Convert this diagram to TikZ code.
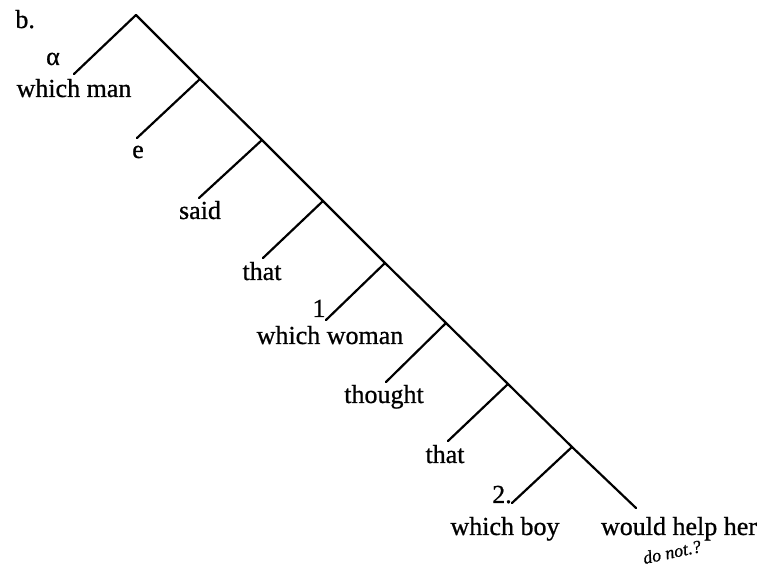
\documentclass[tikz,border=0pt]{standalone}
\usepackage{fontspec}
\setmainfont[FakeBold=0.8]{Liberation Serif}

\begin{document}
\begin{tikzpicture}[
    x=0.5pt, y=-0.5pt,
    branch/.style={line width=1.1pt, line cap=round},
    word/.style={font=\fontsize{13}{15}\selectfont, anchor=base, inner sep=0pt},
    scrawl/.style={font=\fontsize{9}{10}\selectfont\itshape, rotate=12, inner sep=0pt},
]
    \useasboundingbox (0,0) rectangle (762,572);

    % spine
    \coordinate (top) at (136,15);
    \coordinate (b1) at (200,79);
    \coordinate (b2) at (262,140);
    \coordinate (b3) at (323,201);
    \coordinate (b4) at (385,263);
    \coordinate (b5) at (446,323);
    \coordinate (b6) at (508,384);
    \coordinate (b7) at (572,447);
    \coordinate (bottom) at (636,508);

    % leaf ends
    \coordinate (l0) at (74,74);
    \coordinate (l1) at (137,138);
    \coordinate (l2) at (199,198);
    \coordinate (l3) at (263,258);
    \coordinate (l4) at (326,320);
    \coordinate (l5) at (386,382);
    \coordinate (l6) at (448,441);
    \coordinate (l7) at (512,503);

    \draw[branch] (top) -- (b1) -- (b2) -- (b3) -- (b4) -- (b5) -- (b6) -- (b7) -- (bottom);
    \foreach \i/\j in {top/l0, b1/l1, b2/l2, b3/l3, b4/l4, b5/l5, b6/l6, b7/l7}
        \draw[branch] (\i) -- (\j);

    \node[word, anchor=base west] (label) at (15,28) {b.};
    \node[word] (alpha) at (53,65) {α};
    \node[word] (whichman) at (74,97) {which man};
    \node[word] (e) at (138,158) {e};
    \node[word] (said) at (200,219) {said};
    \node[word] (that1) at (262,280) {that};
    \node[word] (one) at (319,317) {1};
    \node[word] (whichwoman) at (330,344) {which woman};
    \node[word] (thought) at (384,403) {thought};
    \node[word] (that2) at (445,463) {that};
    \node[word] (two) at (502,503) {2.};
    \node[word] (whichboy) at (505,535) {which boy};
    \node[word] (helpher) at (679,535) {would help her};
    \node[scrawl] (donot) at (672,552) {do not.?};

\end{tikzpicture}
\end{document}
